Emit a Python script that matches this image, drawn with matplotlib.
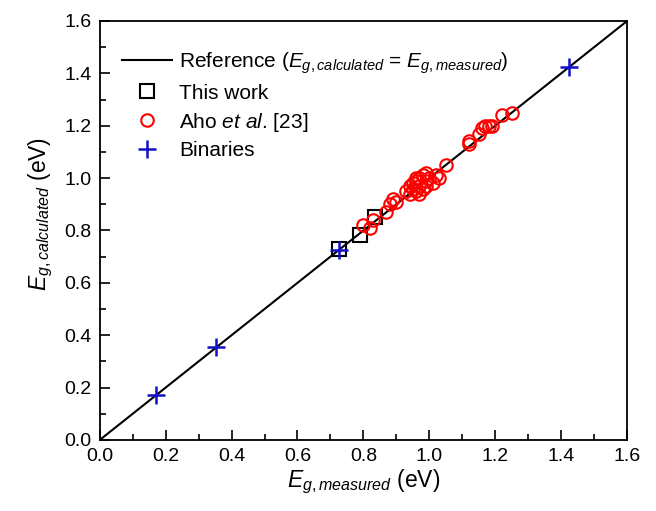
import numpy as np
import matplotlib.pyplot as plt
from matplotlib.ticker import MultipleLocator

plt.rcParams['font.family'] = ['Liberation Sans', 'DejaVu Sans']
plt.rcParams['mathtext.fontset'] = 'custom'
plt.rcParams['mathtext.rm'] = 'Liberation Sans'
plt.rcParams['mathtext.it'] = 'Liberation Sans:italic'

# reference line
ref_x = [0.0, 1.6]

# this work
work_meas = [0.726, 0.790, 0.835]
work_calc = [0.730, 0.783, 0.853]

# Aho et al. [23]
aho_meas = [0.80, 0.82, 0.83, 0.87, 0.88, 0.89, 0.90,
            0.93, 0.94, 0.95, 0.95, 0.96, 0.96, 0.96, 0.97, 0.97, 0.97,
            0.98, 0.98, 0.99, 0.99, 1.00, 1.01, 1.02, 1.03, 0.94, 0.99,
            1.05, 1.12, 1.12, 1.15, 1.16, 1.17, 1.18, 1.19, 1.22, 1.25]
aho_calc = [0.82, 0.81, 0.84, 0.87, 0.90, 0.92, 0.91,
            0.95, 0.94, 0.96, 0.98, 0.95, 0.99, 1.00, 0.97, 1.00, 0.94,
            0.96, 1.01, 0.99, 1.02, 1.00, 0.98, 1.01, 1.00, 0.97, 0.97,
            1.05, 1.13, 1.14, 1.17, 1.19, 1.20, 1.20, 1.20, 1.24, 1.25]

# binaries
bin_meas = [0.17, 0.354, 0.726, 1.424]
bin_calc = [0.17, 0.354, 0.726, 1.424]

fig = plt.figure(figsize=(6.56, 5.11), dpi=100)
ax = fig.add_axes((0.152, 0.139, 0.804, 0.82))

ax.plot(ref_x, ref_x, color='black', lw=1.5,
        label=r'Reference ($E_{g,calculated}$ = $E_{g,measured}$)')
ax.plot(work_meas, work_calc, linestyle='none', marker='s', ms=10,
        mfc='none', mec='black', mew=1.5, label='This work')
ax.plot(aho_meas, aho_calc, linestyle='none', marker='o', ms=9,
        mfc='none', mec='red', mew=1.5, label=r'Aho $et$ $al$. [23]')
ax.plot(bin_meas, bin_calc, linestyle='none', marker='+', ms=13,
        mec='#1010c8', mew=1.8, label='Binaries', zorder=3)

ax.set_xlim(0, 1.6)
ax.set_ylim(0, 1.6)
ax.xaxis.set_major_locator(MultipleLocator(0.2))
ax.yaxis.set_major_locator(MultipleLocator(0.2))
ax.xaxis.set_minor_locator(MultipleLocator(0.1))
ax.yaxis.set_minor_locator(MultipleLocator(0.1))
ax.xaxis.set_major_formatter(plt.FormatStrFormatter('%.1f'))
ax.yaxis.set_major_formatter(plt.FormatStrFormatter('%.1f'))
ax.tick_params(which='both', direction='in', labelsize=14, width=1.2)
ax.tick_params(which='major', length=7, pad=6)
ax.tick_params(which='minor', length=4)
for s in ax.spines.values():
    s.set_linewidth(1.3)

ax.set_xlabel(r'$E_{g,measured}$ (eV)', fontsize=16.5, labelpad=2)
ax.set_ylabel(r'$E_{g,calculated}$ (eV)', fontsize=16.5)
ax.yaxis.set_label_coords(-0.085, 0.54)

ax.legend(loc='upper left', bbox_to_anchor=(0.026, 0.95), borderaxespad=0,
          frameon=False, fontsize=15, handlelength=2.4,
          labelspacing=0.38, handletextpad=0.35)

fig.savefig('out.png', dpi=100)
